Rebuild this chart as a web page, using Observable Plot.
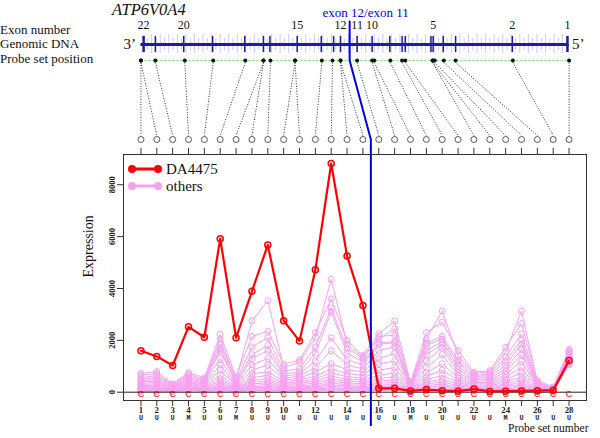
<!DOCTYPE html>
<html><head><meta charset="utf-8">
<script src="https://cdn.jsdelivr.net/npm/d3@7"></script>
<script src="https://cdn.jsdelivr.net/npm/@observablehq/plot@0.6"></script>
<style>
body{margin:0;background:#fff}
#chart{position:relative;width:600px;height:438px;overflow:hidden}
#chart svg{display:block}
#overlay{position:absolute;left:0;top:0;pointer-events:none}
</style>
</head><body><div id="chart"></div>
<script>
// ---------- data ----------
const probeNumbers = [1,2,3,4,5,6,7,8,9,10,11,12,13,14,15,16,17,18,19,20,21,22,23,24,25,26,27,28];
const probeLabels = ["1","2","3","4","5","6","7","8","9","10","","12","","14","","16","","18","","20","","22","","24","","26","","28"];
const probeCalls = ["C","C","C","C","C","C","C","C","C","C","C","C","C","C","C","C","C","C","C","C","C","C","C","C","C","C","C","C"];
const probeTypes = ["U","U","U","M","U","U","M","U","U","U","U","U","U","U","U","U","U","M","U","U","U","U","U","M","U","U","U","U"];
// genomic position of each probe set (kb from the 3' end)
const probeGenomicKb = [0.0,0.0,2.7,8.2,13.5,19.5,22.9,22.9,24.2,28.8,28.8,33.8,35.8,37.3,37.3,40.4,43.2,43.6,46.6,48.8,49.4,54.5,54.5,54.9,56.6,58.8,69.5,80.0];
const exonNumbers = [22,21,20,19,18,17,16,15,14,13,12,11,10,9,8,7,6,5,4,3,2,1];
const exonKb = [0.5,2.7,8.0,13.4,19.4,22.9,24.1,29.2,33.7,36.0,37.3,40.4,43.2,46.5,48.8,49.4,54.2,54.6,56.5,58.8,69.4,79.7];
const labeledExons = [22,20,15,12,11,10,5,2,1];
const geneLengthKb = 80;
const boundaryKb = 39.0;      // exon 12 / exon 11 junction
const boundaryProbe = 15.5;   // between probe sets 15 and 16
const yTicks = [0,2000,4000,6000,8000];

const da4475 = [1600,1380,1030,2520,2120,5920,2100,3890,5680,2760,1970,4720,8820,5250,3340,150,150,50,100,60,40,120,30,40,50,60,80,1220];

const othersValues = [
  [650,720,290,700,500,1850,520,2750,3530,950,1150,2100,4350,1850,1350,2050,2450,330,2050,3130,1400,720,780,1550,3130,400,170,1600],
  [720,800,320,760,560,2230,600,2150,2350,1080,1240,2300,3600,2000,1420,2250,2750,380,2300,2700,1600,770,830,1730,2650,450,200,1650],
  [560,640,260,640,460,2050,450,1750,2100,820,900,1750,3250,1700,1300,2150,2200,290,1900,2150,1250,650,700,1350,2250,350,150,1560],
  [500,560,240,580,420,1700,400,1450,1800,700,780,1500,3100,1500,1180,1900,1950,250,1800,2050,1150,600,640,1200,2000,310,130,1520],
  [450,480,220,520,380,1600,350,1300,1600,620,700,1200,2100,1250,1050,1850,1900,220,1600,1950,1000,540,570,1050,1850,270,115,1480],
  [400,420,200,470,340,1300,300,1050,1300,540,620,950,1600,1050,900,1600,1750,190,1450,1850,880,480,500,920,1650,240,100,1440],
  [350,370,180,420,300,1050,260,850,1050,470,540,780,1100,870,780,1300,1500,170,1200,1700,760,420,440,800,1450,210,90,1400],
  [300,320,160,380,270,850,230,700,800,410,470,620,900,720,650,1100,1200,150,950,1450,650,370,380,680,1200,180,80,1360],
  [260,270,140,340,240,650,200,560,650,350,400,500,750,600,540,850,950,130,750,1100,550,320,330,580,950,150,70,1320],
  [220,230,120,300,210,520,180,450,520,300,340,420,620,500,460,650,750,110,600,850,460,270,280,480,750,130,60,1290],
  [180,190,100,260,180,420,160,380,430,260,290,350,500,420,390,520,600,95,480,650,380,230,240,400,600,110,50,1260],
  [150,160,90,220,150,340,140,320,360,220,240,290,420,350,330,420,480,80,390,500,310,190,200,330,480,90,45,1230],
  [120,130,80,190,130,270,120,260,300,180,200,240,350,290,270,340,380,70,310,400,250,160,160,270,380,75,40,1200],
  [100,100,70,160,110,220,100,210,240,150,160,200,280,240,220,270,300,60,250,320,200,130,130,220,300,60,35,1170],
  [80,80,60,130,90,170,80,170,190,120,130,160,220,190,170,210,230,50,200,250,160,100,100,170,230,50,30,1140],
  [60,60,50,100,70,130,60,130,140,90,100,120,170,140,130,160,170,40,150,180,120,80,80,130,170,40,25,1110],
  [40,40,40,80,50,90,40,90,100,70,70,90,120,100,90,110,120,30,100,120,80,60,60,90,120,30,20,1080],
  [30,30,30,60,40,60,30,60,70,50,50,60,80,70,60,70,80,20,70,80,50,40,40,60,80,20,15,1050]
];

// ---------- styling ----------
const SERIF = "'Liberation Serif','Times New Roman',serif";
const NAVY = "#1e1e9a";
const BLUE = "#0000dd";
const PINK = "#f6a2f0";
const RED = "#ff0000";
const xDomain = [-0.1, 29.1];
const ROW = {boundaryTop: 21, exonLabel: 25, dna: 44, probe: 60, circle: 139, bottom: 148};
const FRAME_H = 246;  // height of the plotting frame in the main chart
const TICK = 6;

// ---------- derived tables ----------
const g2i = d3.scaleLinear().domain([0, geneLengthKb]).range([1, 28]);
const probeRows = probeNumbers.map((p, i) => ({probe: p, label: probeLabels[i], call: probeCalls[i], type: probeTypes[i], gpos: g2i(probeGenomicKb[i])}));
const daRows = probeNumbers.map((p, i) => ({probe: p, value: da4475[i]}));
const othersRows = othersValues.flatMap((s, k) => s.map((v, i) => ({sample: k, probe: probeNumbers[i], value: v})));
const exonRows = exonNumbers.map((n, i) => ({n, gpos: g2i(exonKb[i]), labeled: labeledExons.includes(n), wide: n === 22 || n === 1}));
const strandRows = d3.range(0.4, geneLengthKb, 0.8).map((kb, i) => ({gpos: g2i(kb), tall: i % 2 === 0}));
const bluePath = [
  {x: g2i(boundaryKb), y: ROW.boundaryTop},
  {x: g2i(boundaryKb), y: ROW.probe},
  {x: boundaryProbe, y: ROW.circle},
  {x: boundaryProbe, y: ROW.bottom}
];

// ---------- header (gene model) ----------
const header = Plot.plot({
  width: 600, height: 148,
  marginTop: 0, marginBottom: 0, marginLeft: 123, marginRight: 14,
  x: {domain: xDomain, axis: null},
  y: {type: "identity", axis: null},
  style: {fontFamily: SERIF, background: "transparent", overflow: "visible"},
  marks: [
    Plot.ruleX(strandRows, {x: "gpos", y1: d => d.tall ? ROW.dna - 10 : ROW.dna - 6, y2: d => d.tall ? ROW.dna + 9 : ROW.dna + 6, stroke: "#8c8ce6", strokeOpacity: 0.45, strokeWidth: 1}),
    Plot.ruleY([ROW.dna], {x1: g2i(0), x2: g2i(geneLengthKb), stroke: NAVY, strokeWidth: 3}),
    Plot.ruleX(exonRows, {x: "gpos", y1: ROW.dna - 8, y2: ROW.dna + 8, stroke: NAVY, strokeWidth: d => d.wide ? 2.5 : 1.5}),
    Plot.text(exonRows.filter(d => d.labeled), {x: "gpos", y: ROW.exonLabel, text: d => String(d.n), fontSize: 12, fill: "#111"}),
    Plot.text(["3’"], {x: g2i(0), y: ROW.dna, dx: -5, textAnchor: "end", fontSize: 15, fill: "#111"}),
    Plot.text(["5’"], {x: g2i(geneLengthKb), y: ROW.dna, dx: 3, textAnchor: "start", fontSize: 15, fill: "#111"}),
    Plot.text(["exon 12/exon 11"], {x: g2i(boundaryKb), y: 12, dx: 16, fontSize: 13, fill: BLUE}),
    Plot.ruleY([ROW.probe], {x1: g2i(0), x2: g2i(geneLengthKb), stroke: "#78dc78", strokeDasharray: "2,2"}),
    Plot.link(probeRows, {x1: "gpos", y1: ROW.probe + 2, x2: "probe", y2: ROW.circle - 4, stroke: "#333", strokeWidth: 1, strokeDasharray: "1,1.6"}),
    Plot.dot(probeRows, {x: "gpos", y: ROW.probe, r: 2, fill: "#111", stroke: "none"}),
    Plot.dot(probeRows, {x: "probe", y: ROW.circle, r: 3, stroke: "#555", fill: "none", strokeWidth: 1}),
    Plot.line(bluePath, {x: "x", y: "y", stroke: BLUE, strokeWidth: 2})
  ]
});

// ---------- main expression chart ----------
const main = Plot.plot({
  width: 600, height: 290,
  marginTop: 6, marginBottom: 38, marginLeft: 123, marginRight: 14,
  x: {domain: xDomain, axis: null},
  y: {domain: [-320, 9167], axis: null},
  style: {fontFamily: SERIF, background: "transparent", overflow: "visible"},
  marks: [
    Plot.line(othersRows, {x: "probe", y: "value", z: "sample", stroke: PINK, strokeWidth: 1}),
    Plot.dot(othersRows, {x: "probe", y: "value", r: 3, stroke: PINK, fill: "none", strokeWidth: 1}),
    Plot.ruleY([0], {stroke: "#222"}),
    Plot.line(daRows, {x: "probe", y: "value", stroke: RED, strokeWidth: 2.2}),
    Plot.dot(daRows, {x: "probe", y: "value", r: 3, stroke: RED, fill: "none", strokeWidth: 1.5}),
    Plot.text(probeRows, {x: "probe", frameAnchor: "bottom", dy: -4, text: "call", fill: RED, fontSize: 9, fontFamily: "'Liberation Sans',sans-serif"}),
    Plot.ruleX([boundaryProbe], {stroke: BLUE, strokeWidth: 2, insetTop: -6, insetBottom: -26}),
    Plot.frame({stroke: "#333"}),
    // probe tick marks above and below the frame
    Plot.ruleX(probeNumbers, {x: d => d, insetTop: -TICK, insetBottom: FRAME_H, stroke: "#333"}),
    Plot.ruleX(probeNumbers, {x: d => d, insetTop: FRAME_H, insetBottom: -TICK, stroke: "#333"}),
    // probe number, then probe-set type
    Plot.text(probeRows.filter(d => d.label !== ""), {x: "probe", frameAnchor: "bottom", dy: TICK, lineAnchor: "top", text: "label", fontSize: 8.8, fontWeight: "bold", fill: "#222"}),
    Plot.text(probeRows, {x: "probe", frameAnchor: "bottom", dy: 19, text: "type", fontSize: 6.8, fontWeight: "bold", fontFamily: "'Liberation Mono',monospace", fill: "#222"}),
    Plot.axisY({ticks: yTicks, tickSize: 6, tickRotate: -90, tickFormat: d => String(d), label: null, fontSize: 8.5, fontWeight: "bold", fill: "#222", stroke: "#333"}),
    Plot.text(["Expression"], {frameAnchor: "left", dx: -35, rotate: -90, fontSize: 14, fill: "#111"}),
    Plot.text(["Probe set number"], {frameAnchor: "bottom-right", dx: 2, dy: 31.6, textAnchor: "end", fontSize: 11.5, fill: "#111"})
  ]
});

const chart = document.getElementById("chart");
chart.appendChild(header);
chart.appendChild(main);

// ---------- title, row labels and legend ----------
const overlay = `
<svg id="overlay" width="600" height="438" font-family="${SERIF}">
  <text x="112" y="15" font-size="16.5" font-style="italic" fill="#111">ATP6V0A4</text>
  <text x="0" y="33.5" font-size="13" fill="#111">Exon number</text>
  <text x="0" y="48" font-size="13" fill="#111">Genomic DNA</text>
  <text x="0" y="62.5" font-size="13" fill="#111">Probe set position</text>
  <line x1="132" y1="169" x2="158" y2="169" stroke="${RED}" stroke-width="3"/>
  <circle cx="132" cy="169" r="4" fill="${RED}"/><circle cx="158" cy="169" r="4" fill="${RED}"/>
  <text x="166" y="174" font-size="15" fill="#111">DA4475</text>
  <line x1="132" y1="186" x2="158" y2="186" stroke="${PINK}" stroke-width="3"/>
  <circle cx="132" cy="186" r="4" fill="${PINK}"/><circle cx="158" cy="186" r="4" fill="${PINK}"/>
  <text x="166" y="191" font-size="15" fill="#111">others</text>
</svg>`;
chart.insertAdjacentHTML("beforeend", overlay);
</script></body></html>
